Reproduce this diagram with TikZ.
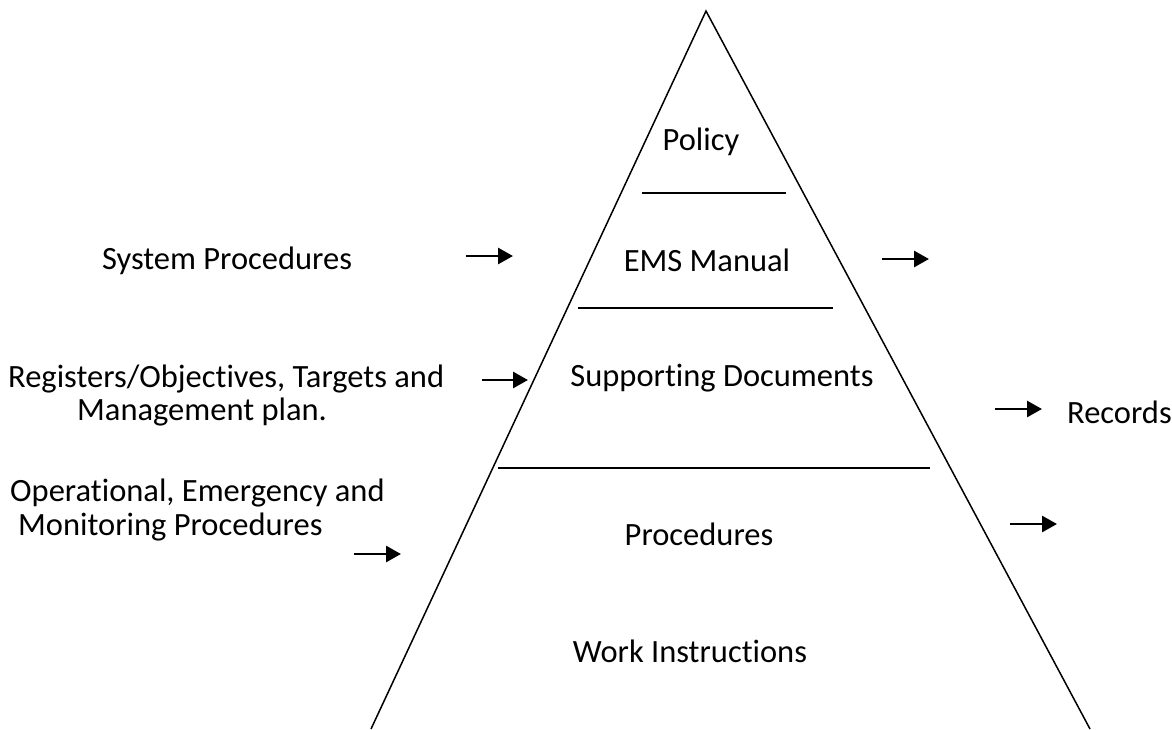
\documentclass[tikz,border=0pt]{standalone}
\usepackage{fontspec}
\setmainfont{Carlito}[Ligatures=NoCommon]
\usetikzlibrary{arrows.meta}
\usetikzlibrary{calc}
\tikzset{arr/.style={line width=2.8pt, -{Triangle[length=15pt,width=16pt]}}}
\tikzset{lbl/.style={inner sep=0pt, font=\fontsize{32.5}{40}\selectfont}}
\newcommand\harrow[4]{
  \coordinate (#1a) at (#2,#4);
  \coordinate (#1b) at (#3,#4);
  \draw[arr] (#1a) -- (#1b);
}

\begin{document}
\begin{tikzpicture}[x=1pt,y=-1pt]
\useasboundingbox (0,0) rectangle (1172,729);

% pyramid
\coordinate (top) at (706,11);
\coordinate (bl) at (371,729);
\coordinate (br) at (1090,729);
\draw[line width=1.5pt] (bl) -- (top) -- (br);

\coordinate (l1a) at (642,193); \coordinate (l1b) at (786,193);
\coordinate (l2a) at (578,308); \coordinate (l2b) at (833,308);
\coordinate (l3a) at (498,468); \coordinate (l3b) at (930,468);
\draw[line width=1.5pt] (l1a) -- (l1b);
\draw[line width=1.5pt] (l2a) -- (l2b);
\draw[line width=1.5pt] (l3a) -- (l3b);

\node[lbl] (policy) at (701,142) {Policy};
\node[lbl] (ems) at (707,260) {EMS Manual};
\node[lbl] (supp) at (722,378) {Supporting Documents};
\node[lbl] (proc) at (699,534) {Procedures};
\node[lbl] (work) at (690,651) {Work Instructions};

\node[lbl] (sysproc) at (227,261) {System Procedures};
\node[lbl, anchor=west] (reg1) at (8,379) {Registers/Objectives, Targets and};
\node[lbl, anchor=west] (reg2) at (77,412) {Management plan.};
\node[lbl, anchor=west] (op1) at (10,493) {Operational, Emergency and};
\node[lbl, anchor=west] (op2) at (18,527) {Monitoring Procedures};
\node[lbl, anchor=west] (rec) at (1067,412) {Records};

\harrow{a1}{466}{513}{256}
\harrow{a2}{482}{528}{380}
\harrow{a3}{354}{401}{554}
\harrow{a4}{882}{929}{259}
\harrow{a5}{995}{1042}{409}
\harrow{a6}{1010}{1057}{524}

\end{tikzpicture}
\end{document}
